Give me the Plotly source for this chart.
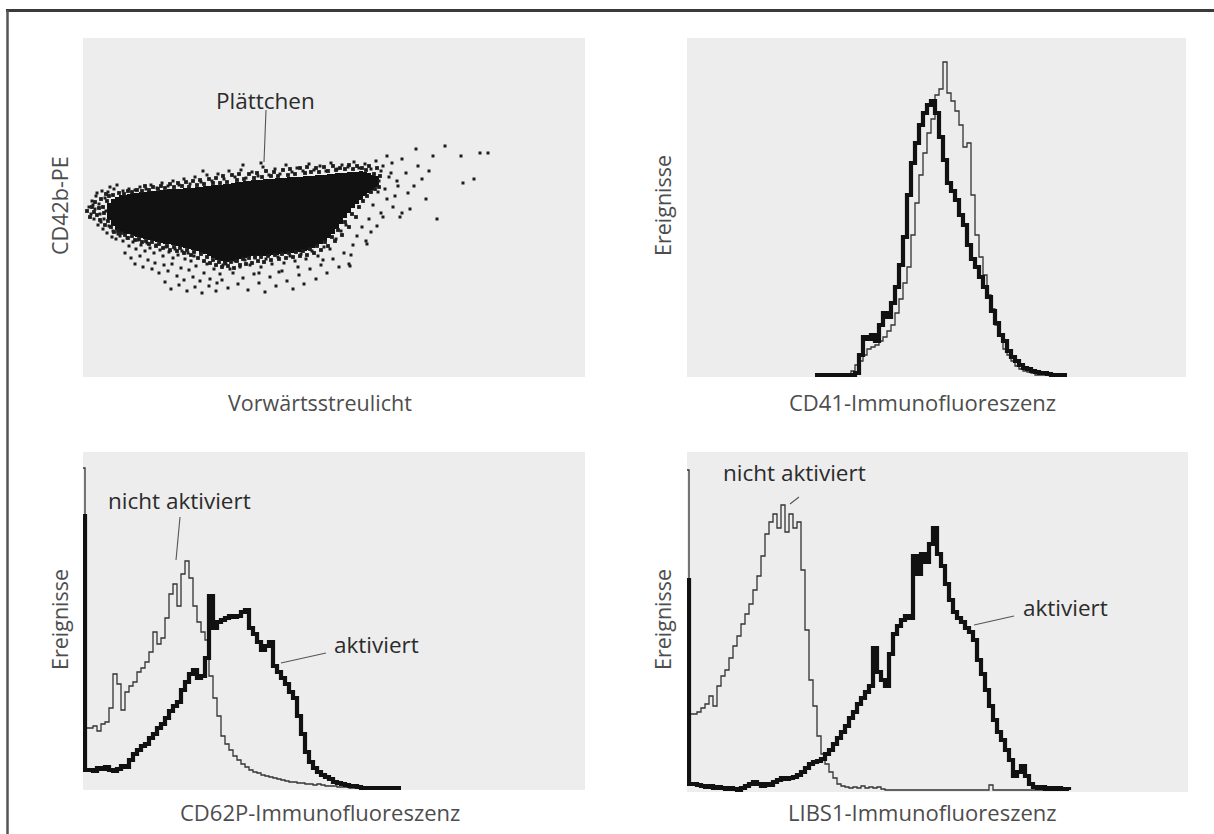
import plotly.graph_objects as go

W, H = 1214, 834

# ---------------- Panel A: forward scatter vs. CD42b-PE ----------------
# dense platelet population: lower/upper CD42b bound per forward-scatter column
core_start, core_step = 24, 4
core_lo = [157, 151, 147, 145, 143, 143, 141, 140, 139, 138, 137, 136, 135, 134, 133, 133,
           132, 131, 130, 129, 128, 127, 126, 124, 123, 121, 119, 117, 116, 115, 115, 116,
           117, 118, 119, 120, 121, 121, 121, 121, 121, 122, 122, 123, 123, 124, 124, 125,
           125, 126, 127, 129, 131, 133, 136, 139, 143, 148, 153, 159, 164, 169, 173, 177,
           181, 184, 187, 190]
core_hi = [174, 178, 180, 182, 182, 183, 184, 184, 185, 185, 186, 186, 186, 187, 187, 188,
           188, 188, 188, 189, 189, 189, 190, 190, 191, 191, 192, 192, 192, 193, 193, 194,
           195, 195, 196, 196, 197, 197, 197, 198, 198, 198, 199, 199, 199, 200, 200, 200,
           200, 201, 201, 201, 202, 202, 202, 203, 203, 204, 204, 204, 205, 205, 205, 206,
           205, 204, 202, 201]

# events hugging the edge of the main population (forward scatter, CD42b-PE)
edge_events = [
    (4, 166), (7, 160), (9, 170), (12, 175), (14, 162), (16, 169), (18, 178), (20, 170),
    (22, 152), (24, 176), (26, 181), (21, 164), (17, 157), (11, 165), (25, 156), (23, 183),
    (30, 182), (36, 184), (41, 183), (45, 186), (49, 185), (54, 187), (59, 186), (62, 191),
    (66, 187), (70, 190), (75, 188), (78, 191), (82, 189), (87, 193), (91, 190), (95, 194),
    (99, 191), (103, 195), (106, 190), (110, 196), (114, 192), (117, 197), (121, 193), (126, 198),
    (130, 194), (133, 199), (137, 194), (140, 201), (144, 195), (149, 202), (154, 197), (156, 203),
    (161, 198), (166, 203), (171, 199), (174, 204), (179, 200), (183, 206), (188, 201), (191, 205),
    (195, 201), (200, 207), (205, 202), (207, 208), (212, 203), (217, 209), (222, 204), (224, 210),
    (228, 205), (233, 209), (236, 205), (241, 210), (245, 206), (250, 211), (253, 207), (257, 209),
    (262, 208), (266, 212), (270, 208), (274, 211), (279, 209), (283, 207), (286, 211), (291, 203),
    (294, 209), (297, 201),
    (28, 150), (31, 145), (35, 146), (38, 144), (42, 142), (45, 139), (49, 141), (52, 137),
    (56, 138), (59, 135), (63, 136), (66, 133), (69, 135), (73, 131), (76, 133), (80, 129),
    (84, 131), (87, 127), (91, 130), (94, 126), (97, 129), (101, 124), (104, 127), (108, 122),
    (111, 125), (115, 119), (118, 123), (121, 116), (124, 120), (127, 114), (130, 117), (133, 112),
    (136, 115), (139, 110), (142, 114), (145, 111), (148, 115), (151, 109), (154, 116), (157, 112),
    (160, 118), (163, 113), (166, 119), (169, 114), (172, 120), (175, 116), (178, 120), (181, 115),
    (185, 121), (188, 117), (192, 122), (196, 118), (199, 123), (203, 119), (206, 124), (210, 120),
    (213, 125), (217, 121), (220, 126), (224, 122), (227, 128), (231, 124), (234, 131), (238, 127),
    (242, 135), (245, 131), (249, 140), (252, 136), (255, 147), (259, 142), (262, 155), (266, 150),
    (269, 163), (273, 160), (276, 170), (280, 176), (284, 181), (288, 185), (292, 188), (296, 190),
]

# scattered single events further out
platelet_events = [
    (6, 170), (8, 163), (9, 176), (11, 158), (12, 168), (13, 181), (15, 152), (16, 173),
    (17, 163), (19, 186), (20, 148), (21, 158), (22, 179), (24, 144), (25, 185), (26, 151),
    (27, 190), (29, 140), (30, 146), (31, 188), (33, 138), (34, 192), (35, 143), (14, 184),
    (18, 155), (10, 172), (23, 166),
    (37, 141), (40, 136), (44, 139), (46, 131), (50, 135), (53, 128), (55, 137), (58, 132),
    (62, 126), (64, 134), (67, 129), (71, 124), (73, 132), (77, 127), (80, 121), (83, 130),
    (86, 125), (90, 119), (92, 128), (95, 122), (99, 126), (102, 118), (105, 124), (108, 116),
    (111, 121),
    (42, 124), (48, 119), (52, 113), (57, 121), (60, 110), (65, 117), (69, 108), (72, 114),
    (76, 104), (81, 112), (85, 106), (89, 113), (94, 101), (98, 109), (101, 97), (106, 107),
    (110, 100), (113, 111), (117, 96), (121, 104), (124, 113), (127, 98), (131, 108), (134, 94),
    (137, 103), (140, 112),
    (82, 95), (88, 88), (96, 92), (104, 86), (112, 90), (119, 84), (126, 91), (133, 86),
    (139, 97), (145, 89), (150, 104), (155, 93), (160, 99), (165, 87), (171, 103), (176, 94),
    (182, 85), (187, 100), (193, 91), (199, 106), (204, 96), (210, 88), (216, 102), (221, 93),
    (227, 108), (233, 98), (238, 112), (244, 104), (250, 118), (256, 110), (261, 124), (266, 113),
    (270, 132), (274, 141), (279, 150), (283, 136), (286, 158), (268, 122),
    (143, 113), (147, 108), (152, 116), (157, 110), (162, 117), (167, 112), (172, 119), (178, 110),
    (183, 118), (189, 113), (195, 120), (201, 114), (207, 121), (212, 116), (218, 123), (223, 118),
    (229, 126), (235, 121), (241, 130), (247, 128), (253, 138), (258, 146), (263, 152), (176, 104),
    (196, 105), (215, 110), (240, 117),
    (40, 186), (46, 188), (52, 187), (57, 190), (63, 188), (68, 192), (74, 189), (79, 194),
    (85, 191), (90, 196), (96, 192), (101, 198), (107, 193), (112, 200), (118, 195), (124, 202),
    (129, 196), (135, 203), (141, 198), (146, 206), (152, 200), (158, 207), (163, 199), (169, 205),
    (175, 201), (180, 210), (186, 202), (192, 208), (197, 203), (203, 212), (209, 205), (214, 209),
    (220, 206), (226, 213), (231, 207), (237, 211), (243, 206), (248, 214), (254, 208), (259, 212),
    (265, 210), (271, 215), (276, 209), (282, 213), (288, 208), (293, 216), (298, 206), (178, 214),
    (160, 212), (120, 206),
    (296, 196), (300, 211), (302, 188), (304, 178), (304, 221), (306, 200), (308, 204), (310, 170),
    (312, 181), (315, 191), (317, 160), (319, 164), (319, 218), (323, 204), (327, 168), (331, 191),
    (333, 228), (335, 211), (339, 198), (343, 178), (350, 221), (354, 158), (362, 231), (378, 221),
    (380, 194), (391, 198), (397, 224), (405, 224), (298, 164), (294, 151), (288, 145), (284, 133),
    (267, 111), (325, 184), (346, 206), (290, 172), (295, 185), (300, 160), (314, 196), (309, 214),
]

# ---------------- Panel B: CD41 histograms ----------------
bin_w = 4
cd41_start = 128
cd41_rest = [0, 0, 0, 0, 0, 0, 0, 0, 0, 4, 10, 14, 20, 26, 28, 30, 34, 38, 44, 50, 62, 76,
             92, 108, 140, 172, 200, 222, 242, 256, 280, 286, 313, 282, 274, 264, 250, 228,
             232, 180, 140, 118, 100, 80, 66, 50, 40, 26, 20, 14, 9, 6, 4, 3, 2, 0, 0, 0,
             0, 0, 0, 0, 0, 0]
cd41_act = [0, 0, 0, 0, 0, 0, 0, 0, 0, 0, 2, 20, 38, 36, 40, 34, 50, 62, 58, 72, 88, 110,
            138, 180, 212, 232, 250, 262, 270, 274, 262, 238, 215, 192, 184, 175, 160, 150,
            130, 116, 108, 98, 88, 78, 64, 52, 40, 34, 24, 18, 14, 10, 7, 6, 4, 3, 2, 2,
            1, 0, 0, 0, 0, 0]

# ---------------- Panel C: CD62P histograms ----------------
cd62p_start = -2
cd62p_rest = [320, 60, 60, 62, 57, 64, 66, 80, 114, 104, 78, 96, 102, 106, 116, 120, 126,
              136, 156, 144, 150, 170, 194, 204, 182, 214, 227, 210, 182, 166, 156, 148, 112,
              90, 72, 52, 44, 38, 32, 28, 24, 21, 18, 16, 15, 13, 12, 11, 10, 9, 8, 7, 6, 6,
              5, 5, 4, 4, 3, 4, 3, 2, 2, 2, 1, 1, 1, 0, 0, 0, 0, 0, 0, 0, 0, 0, 0, 0, 0,
              0, 0]
cd62p_act = [272, 18, 18, 17, 20, 19, 21, 18, 17, 19, 22, 21, 28, 34, 38, 42, 44, 50, 54,
             60, 64, 70, 77, 82, 86, 98, 106, 114, 118, 110, 112, 130, 192, 160, 166, 168,
             170, 172, 171, 172, 176, 178, 160, 154, 146, 138, 142, 146, 122, 116, 110, 104,
             96, 90, 72, 54, 36, 26, 20, 16, 13, 11, 9, 6, 5, 4, 3, 2, 2, 1, 0, 0, 0, 0, 0,
             0, 0, 0, 0, 0, 0]

# ---------------- Panel D: LIBS1 histograms ----------------
libs1_start = -2
libs1_rest = [320, 76, 76, 78, 82, 86, 94, 84, 104, 114, 120, 132, 144, 154, 166, 176, 186,
              200, 214, 234, 256, 268, 276, 262, 285, 258, 276, 262, 268, 220, 160, 110, 84,
              54, 36, 26, 18, 12, 6, 4, 3, 2, 3, 2, 4, 2, 3, 2, 3, 1, 0, 0, 0, 0, 0, 0, 0,
              0, 0, 0, 0, 0, 0, 0, 0, 0, 0, 0, 0, 0, 0, 0, 0, 0, 0, 0, 5, 0, 0, 0, 0, 0, 0,
              0, 0, 0, 0, 0, 0, 0, 0, 0, 0, 0, 0, 0, 0]
libs1_act = [210, 6, 6, 5, 4, 3, 4, 2, 3, 2, 1, 2, 1, 0, 2, 4, 6, 8, 6, 4, 6, 5, 8, 10, 12,
             11, 12, 13, 15, 18, 22, 26, 28, 29, 31, 36, 40, 46, 52, 58, 64, 72, 78, 86, 92,
             98, 104, 142, 118, 110, 104, 136, 156, 164, 170, 174, 172, 234, 216, 236, 228,
             246, 262, 236, 224, 206, 190, 178, 172, 168, 162, 158, 150, 130, 116, 100, 84,
             70, 58, 50, 40, 30, 14, 18, 24, 14, 6, 3, 2, 3, 1, 2, 1, 2, 1, 1, 0]

# ---------------- styling ----------------
FONT = "Open Sans"
BG = "#ededed"
INK = "#111111"
THIN = "#333333"
LABEL = "#4d4d4d"
NOTE = "#2b2b2b"


def channels(start, counts):
    return [start + bin_w * i for i in range(len(counts))]


def px(x):
    return x / W


def py(y):
    return 1 - y / H


fig = go.Figure()

# Panel A traces
core_x = [core_start + core_step * i + core_step / 2 for i in range(len(core_lo))]
fig.add_trace(go.Bar(
    x=core_x, y=[h - l for l, h in zip(core_lo, core_hi)], base=core_lo,
    width=core_step + 0.6, marker=dict(color=INK, line=dict(width=0)),
    xaxis="x", yaxis="y", showlegend=False, hoverinfo="skip"))
for events, size in ((edge_events, 3.8), (platelet_events, 3)):
    fig.add_trace(go.Scatter(
        x=[p[0] for p in events], y=[p[1] for p in events],
        mode="markers", marker=dict(size=size, color="#1c1c1c", symbol="square", line=dict(width=0)),
        xaxis="x", yaxis="y", showlegend=False, hoverinfo="skip"))


def hist_pair(start, rest, act, xa, ya):
    fig.add_trace(go.Scatter(
        x=channels(start, rest), y=rest, mode="lines", line=dict(shape="hv", width=1.3, color=THIN),
        xaxis=xa, yaxis=ya, showlegend=False, hoverinfo="skip"))
    fig.add_trace(go.Scatter(
        x=channels(start, act), y=act, mode="lines", line=dict(shape="hv", width=4.2, color=INK),
        xaxis=xa, yaxis=ya, showlegend=False, hoverinfo="skip"))


hist_pair(cd41_start, cd41_rest, cd41_act, "x2", "y2")
hist_pair(cd62p_start, cd62p_rest, cd62p_act, "x3", "y3")
hist_pair(libs1_start, libs1_rest, libs1_act, "x4", "y4")


def axis(domain, rng, anchor):
    return dict(domain=domain, range=rng, anchor=anchor, showgrid=False, zeroline=False,
                showticklabels=False, ticks="", showline=False, fixedrange=True)


top_y = [py(377), py(38)]
bot_y3 = [py(790), py(452)]
bot_y4 = [py(792), py(452)]
left_x = [px(83), px(585)]
right_x2 = [px(687), px(1186)]
right_x4 = [px(687), px(1188)]

fig.update_layout(
    width=W, height=H, margin=dict(l=0, r=0, t=0, b=0),
    paper_bgcolor="white", plot_bgcolor=BG, bargap=0,
    xaxis=axis(left_x, [0, 502], "y"), yaxis=axis(top_y, [0, 339], "x"),
    xaxis2=axis(right_x2, [0, 499], "y2"), yaxis2=axis(top_y, [-2, 337], "x2"),
    xaxis3=axis(left_x, [0, 502], "y3"), yaxis3=axis(bot_y3, [-2, 336], "x3"),
    xaxis4=axis(right_x4, [0, 501], "y4"), yaxis4=axis(bot_y4, [-2, 338], "x4"),
    font=dict(family=FONT, color=LABEL),
)

# outer frame (top and left edges)
fig.add_shape(type="line", xref="paper", yref="paper", x0=px(6), x1=1.02, y0=py(10.5), y1=py(10.5),
              line=dict(color="#3a3a3a", width=3))
fig.add_shape(type="line", xref="paper", yref="paper", x0=px(7.5), x1=px(7.5), y0=py(10), y1=-0.02,
              line=dict(color="#555555", width=2.5))

# leader lines for the in-plot labels
leaders = [
    ("x", "y", 183, 267, 181, 215),
    ("x3", "y3", 97, 271, 93, 228),
    ("x3", "y3", 198, 125, 243, 135),
    ("x4", "y4", 112, 293, 103, 286),
    ("x4", "y4", 287, 165, 327, 174),
]
for xr, yr, x0, y0, x1, y1 in leaders:
    fig.add_shape(type="line", xref=xr, yref=yr, x0=x0, y0=y0, x1=x1, y1=y1,
                  line=dict(color="#555555", width=1.1))

notes = [
    ("Plättchen", 265, 100, NOTE, 0, 22.5),
    ("nicht aktiviert", 179, 500, NOTE, 0, 22.5),
    ("aktiviert", 376, 644, NOTE, 0, 22.5),
    ("nicht aktiviert", 794, 472, NOTE, 0, 22.5),
    ("aktiviert", 1065, 607, NOTE, 0, 22.5),
    ("Vorwärtsstreulicht", 320, 402, LABEL, 0, 21.5),
    ("CD41-Immunofluoreszenz", 922, 402, LABEL, 0, 22),
    ("CD62P-Immunofluoreszenz", 320, 812, LABEL, 0, 22),
    ("LIBS1-Immunofluoreszenz", 922, 812, LABEL, 0, 22),
    ("CD42b-PE", 59, 206, LABEL, -90, 21.5),
    ("Ereignisse", 662, 206, LABEL, -90, 21.5),
    ("Ereignisse", 59, 620, LABEL, -90, 21.5),
    ("Ereignisse", 662, 620, LABEL, -90, 21.5),
]
for text, x, y, col, ang, size in notes:
    fig.add_annotation(text=text, x=px(x), y=py(y), xref="paper", yref="paper",
                       showarrow=False, textangle=ang, xanchor="center", yanchor="middle",
                       font=dict(family=FONT, size=size, color=col))

fig.write_html("out.html")
